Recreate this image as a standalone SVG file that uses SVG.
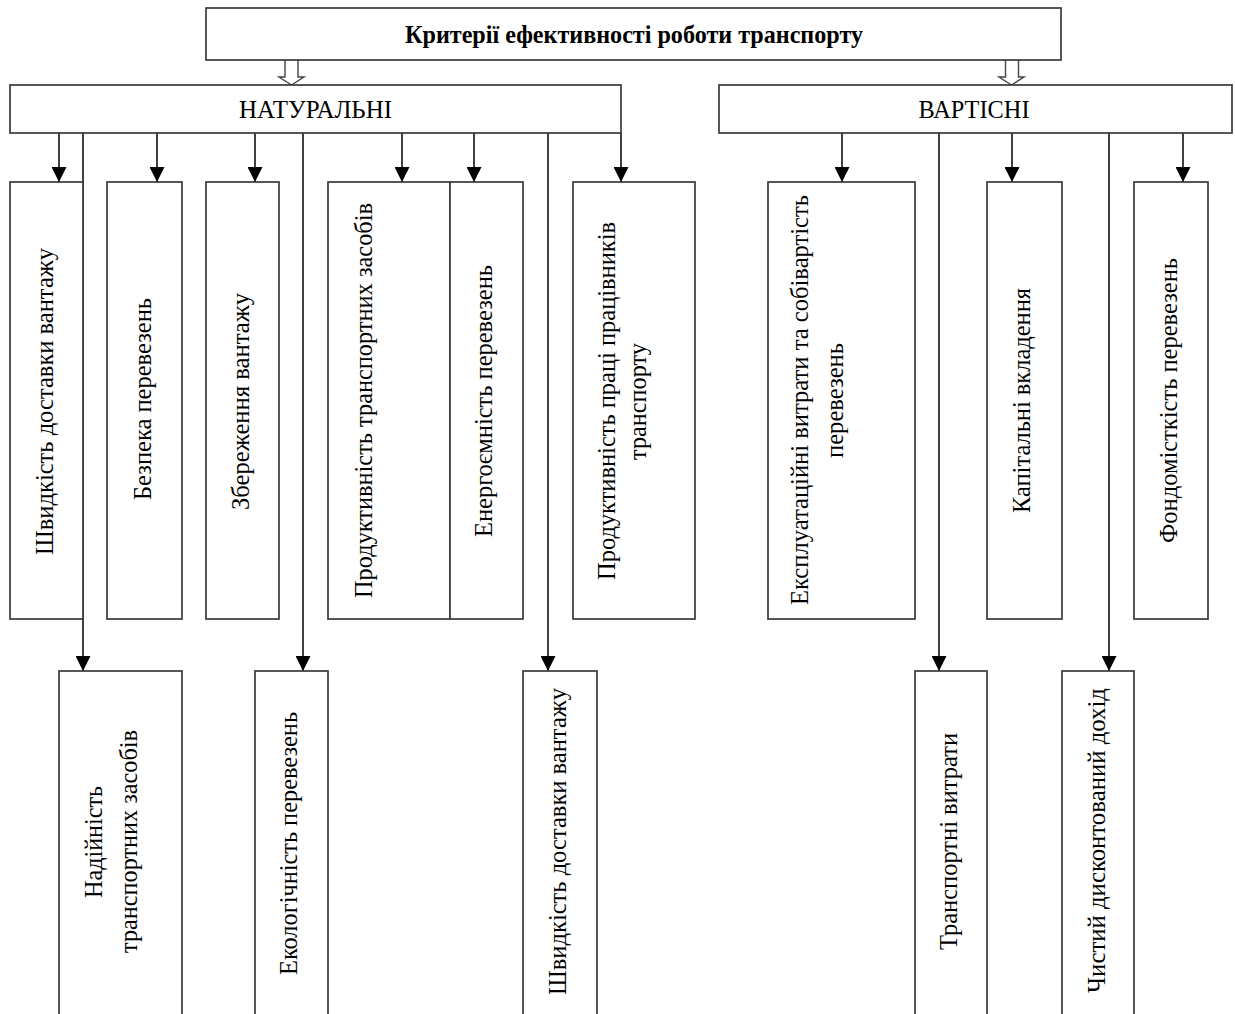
<svg xmlns="http://www.w3.org/2000/svg" width="1235" height="1014" viewBox="0 0 1235 1014">
<defs>
<marker id="ah" markerWidth="15" markerHeight="15" viewBox="0 0 15 15" refX="15" refY="7.5" orient="auto" markerUnits="userSpaceOnUse">
<path d="M0,0 L15,7.5 L0,15 Z" fill="#000"/>
</marker>
</defs>
<style>
.box{fill:#fff;stroke:#3a3a3a;stroke-width:1.7}
.ln{fill:none;stroke:#111;stroke-width:1.6}
.hollow{fill:#fff;stroke:#444;stroke-width:1.4}
.t{font-family:"Liberation Serif","Times New Roman",serif;font-size:24.5px;fill:#000;text-anchor:middle}
.tb{font-weight:bold}
</style>
<rect width="1235" height="1014" fill="#fff"/>

<g id="connectors">
<path class="hollow" d="M285,60 V77 H279 L291.5,85 L304,77 H298 V60"/>
<path class="hollow" d="M1005.5,60 V77 H999 L1011.5,85 L1024,77 H1018.5 V60"/>
<line class="ln" x1="59" y1="133" x2="59" y2="182" marker-end="url(#ah)"/>
<line class="ln" x1="157" y1="133" x2="157" y2="182" marker-end="url(#ah)"/>
<line class="ln" x1="255" y1="133" x2="255" y2="182" marker-end="url(#ah)"/>
<line class="ln" x1="402" y1="133" x2="402" y2="182" marker-end="url(#ah)"/>
<line class="ln" x1="474" y1="133" x2="474" y2="182" marker-end="url(#ah)"/>
<line class="ln" x1="621" y1="133" x2="621" y2="182" marker-end="url(#ah)"/>
<line class="ln" x1="83" y1="133" x2="83" y2="671" marker-end="url(#ah)"/>
<line class="ln" x1="303" y1="133" x2="303" y2="671" marker-end="url(#ah)"/>
<line class="ln" x1="548" y1="133" x2="548" y2="671" marker-end="url(#ah)"/>
<line class="ln" x1="842" y1="133" x2="842" y2="182" marker-end="url(#ah)"/>
<line class="ln" x1="1012" y1="133" x2="1012" y2="182" marker-end="url(#ah)"/>
<line class="ln" x1="1183" y1="133" x2="1183" y2="182" marker-end="url(#ah)"/>
<line class="ln" x1="939" y1="133" x2="939" y2="671" marker-end="url(#ah)"/>
<line class="ln" x1="1109" y1="133" x2="1109" y2="671" marker-end="url(#ah)"/>
</g>

<g id="root">
<rect class="box" x="206" y="8" width="855" height="52"/>
<text class="t tb" x="634" y="43" textLength="458" lengthAdjust="spacingAndGlyphs">Критерії ефективності роботи транспорту</text>
</g>
<g id="natural">
<rect class="box" x="10" y="85" width="611" height="48"/>
<text class="t" x="315.5" y="118" textLength="153" lengthAdjust="spacingAndGlyphs">НАТУРАЛЬНІ</text>
</g>
<g id="cost">
<rect class="box" x="719" y="85" width="513" height="48"/>
<text class="t" x="974" y="118" textLength="111" lengthAdjust="spacingAndGlyphs">ВАРТІСНІ</text>
</g>

<g id="n1">
<rect class="box" x="10" y="182" width="73" height="437"/>
<text class="t" transform="translate(53,401.5) rotate(-90)" textLength="307" lengthAdjust="spacingAndGlyphs">Швидкість доставки вантажу</text>
</g>
<g id="n2">
<rect class="box" x="107" y="182" width="75" height="437"/>
<text class="t" transform="translate(150.5,399) rotate(-90)" textLength="202" lengthAdjust="spacingAndGlyphs">Безпека перевезень</text>
</g>
<g id="n3">
<rect class="box" x="206" y="182" width="73" height="437"/>
<text class="t" transform="translate(248.5,401.5) rotate(-90)" textLength="217" lengthAdjust="spacingAndGlyphs">Збереження вантажу</text>
</g>
<g id="n4">
<rect class="box" x="328" y="182" width="122" height="437"/>
<text class="t" transform="translate(372,400.5) rotate(-90)" textLength="395" lengthAdjust="spacingAndGlyphs">Продуктивність транспортних засобів</text>
</g>
<g id="n5">
<rect class="box" x="450" y="182" width="73" height="437"/>
<text class="t" transform="translate(492,401) rotate(-90)" textLength="272" lengthAdjust="spacingAndGlyphs">Енергоємність перевезень</text>
</g>
<g id="n6">
<rect class="box" x="573" y="182" width="122" height="437"/>
<text class="t" transform="translate(615,401) rotate(-90)" textLength="358" lengthAdjust="spacingAndGlyphs">Продуктивність праці працівників</text>
<text class="t" transform="translate(646,401.5) rotate(-90)" textLength="117" lengthAdjust="spacingAndGlyphs">транспорту</text>
</g>
<g id="n7">
<rect class="box" x="59" y="671" width="123" height="350"/>
<text class="t" transform="translate(101.5,842) rotate(-90)" textLength="112" lengthAdjust="spacingAndGlyphs">Надійність</text>
<text class="t" transform="translate(137,841.5) rotate(-90)" textLength="223" lengthAdjust="spacingAndGlyphs">транспортних засобів</text>
</g>
<g id="n8">
<rect class="box" x="255" y="671" width="73" height="350"/>
<text class="t" transform="translate(297,843.5) rotate(-90)" textLength="263" lengthAdjust="spacingAndGlyphs">Екологічність перевезень</text>
</g>
<g id="n9">
<rect class="box" x="523" y="671" width="74" height="350"/>
<text class="t" transform="translate(566,841.5) rotate(-90)" textLength="307" lengthAdjust="spacingAndGlyphs">Швидкість доставки вантажу</text>
</g>

<g id="c1">
<rect class="box" x="768" y="182" width="147" height="437"/>
<text class="t" transform="translate(808,400) rotate(-90)" textLength="410" lengthAdjust="spacingAndGlyphs">Експлуатаційні витрати та собівартість</text>
<text class="t" transform="translate(843,400.5) rotate(-90)" textLength="115" lengthAdjust="spacingAndGlyphs">перевезень</text>
</g>
<g id="c2">
<rect class="box" x="987" y="182" width="75" height="437"/>
<text class="t" transform="translate(1030,400.5) rotate(-90)" textLength="225" lengthAdjust="spacingAndGlyphs">Капітальні вкладення</text>
</g>
<g id="c3">
<rect class="box" x="1134" y="182" width="74" height="437"/>
<text class="t" transform="translate(1177,400.5) rotate(-90)" textLength="285" lengthAdjust="spacingAndGlyphs">Фондомісткість перевезень</text>
</g>
<g id="c4">
<rect class="box" x="915" y="671" width="72" height="350"/>
<text class="t" transform="translate(957,841.5) rotate(-90)" textLength="217" lengthAdjust="spacingAndGlyphs">Транспортні витрати</text>
</g>
<g id="c5">
<rect class="box" x="1062" y="671" width="72" height="350"/>
<text class="t" transform="translate(1104.5,840.5) rotate(-90)" textLength="305" lengthAdjust="spacingAndGlyphs">Чистий дисконтований дохід</text>
</g>
</svg>
